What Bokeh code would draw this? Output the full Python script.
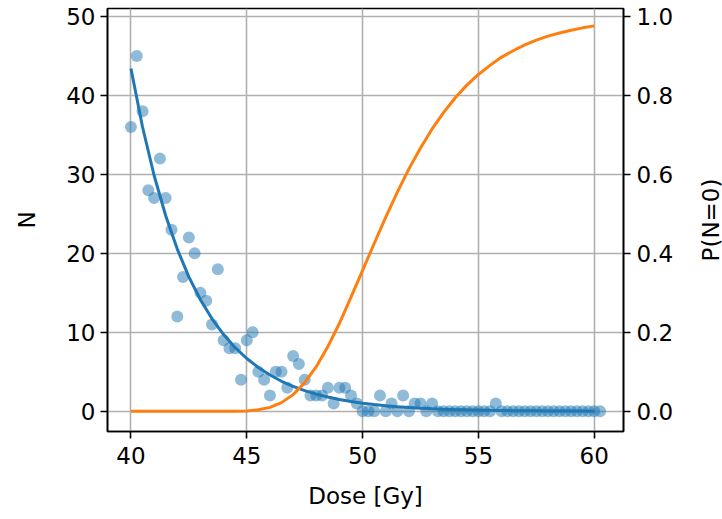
import math
from bokeh.plotting import figure
from bokeh.layouts import row
from bokeh.models import Range1d, LinearAxis, FixedTicker, PrintfTickFormatter
from bokeh.core.properties import value
from bokeh.embed import file_html
from bokeh.resources import INLINE

# Measured dose points (Gy)
dose = [
    40.00, 40.25, 40.50, 40.75, 41.00, 41.25, 41.50, 41.75,
    42.00, 42.25, 42.50, 42.75, 43.00, 43.25, 43.50, 43.75,
    44.00, 44.25, 44.50, 44.75, 45.00, 45.25, 45.50, 45.75,
    46.00, 46.25, 46.50, 46.75, 47.00, 47.25, 47.50, 47.75,
    48.00, 48.25, 48.50, 48.75, 49.00, 49.25, 49.50, 49.75,
    50.00, 50.25, 50.50, 50.75, 51.00, 51.25, 51.50, 51.75,
    52.00, 52.25, 52.50, 52.75, 53.00, 53.25, 53.50, 53.75,
    54.00, 54.25, 54.50, 54.75, 55.00, 55.25, 55.50, 55.75,
    56.00, 56.25, 56.50, 56.75, 57.00, 57.25, 57.50, 57.75,
    58.00, 58.25, 58.50, 58.75, 59.00, 59.25, 59.50, 59.75,
    60.00, 60.25,
]
# Observed N
counts = [
    36, 45, 38, 28, 27, 32, 27, 23,
    12, 17, 22, 20, 15, 14, 11, 18,
    9, 8, 8, 4, 9, 10, 5, 4,
    2, 5, 5, 3, 7, 6, 4, 2,
    2, 2, 3, 1, 3, 3, 2, 1,
    0, 0, 0, 2, 0, 1, 0, 2,
    0, 1, 1, 0, 1, 0, 0, 0,
    0, 0, 0, 0, 0, 0, 0, 1,
    0, 0, 0, 0, 0, 0, 0, 0,
    0, 0, 0, 0, 0, 0, 0, 0,
    0, 0,
]

# Fitted curves
curve_dose = [
    40.0, 40.5, 41.0, 41.5, 42.0, 42.5, 43.0, 43.5, 44.0, 44.5,
    45.0, 45.5, 46.0, 46.5, 47.0, 47.5, 48.0, 48.5, 49.0, 49.5,
    50.0, 50.5, 51.0, 51.5, 52.0, 52.5, 53.0, 53.5, 54.0, 54.5,
    55.0, 55.5, 56.0, 56.5, 57.0, 57.5, 58.0, 58.5, 59.0, 59.5,
    60.0,
]
n_fit = [
    43.40, 36.00, 29.86, 24.76, 20.54, 17.03, 14.13, 11.72, 9.72, 8.06,
    6.69, 5.55, 4.60, 3.81, 3.16, 2.62, 2.18, 1.81, 1.50, 1.24,
    1.03, 0.855, 0.709, 0.588, 0.488, 0.405, 0.336, 0.278, 0.231, 0.191,
    0.159, 0.132, 0.109, 0.091, 0.075, 0.062, 0.052, 0.043, 0.036, 0.030,
    0.025,
]
p_zero = [
    0.0, 0.0, 0.0, 0.0, 0.0, 0.0, 0.0, 0.0, 0.00006, 0.0003,
    0.0012, 0.0039, 0.0101, 0.0221, 0.0424, 0.0728, 0.113, 0.164, 0.223, 0.289,
    0.357, 0.425, 0.492, 0.555, 0.614, 0.667, 0.715, 0.757, 0.794, 0.826,
    0.853, 0.876, 0.897, 0.913, 0.928, 0.940, 0.950, 0.958, 0.965, 0.971,
    0.976,
]

x_ticks = [40, 45, 50, 55, 60]
n_ticks = [0, 10, 20, 30, 40, 50]
p_ticks = [0.0, 0.2, 0.4, 0.6, 0.8, 1.0]
right_title = "P(N=0)"

FONT = "DejaVu Sans"
FS = "23px"

p = figure(
    width=698, height=519,
    x_range=Range1d(38.9875, 61.2625),
    y_range=Range1d(-2.55, 51.0),
    output_backend="svg", toolbar_location=None,
    min_border_left=107, min_border_right=75,
    min_border_top=8, min_border_bottom=88,
    background_fill_color="white", border_fill_color="white",
)
p.extra_y_ranges = {"prob": Range1d(-0.051, 1.02)}

p.outline_line_color = "black"
p.outline_line_width = 1.6
p.outline_line_alpha = 1.0

# grids
p.xgrid.ticker = FixedTicker(ticks=x_ticks)
p.ygrid.ticker = FixedTicker(ticks=n_ticks)
for g in (p.xgrid, p.ygrid):
    g.grid_line_color = "#b0b0b0"
    g.grid_line_width = 1.6

def style_axis(ax):
    ax.axis_line_color = "black"
    ax.axis_line_width = 1.6
    ax.major_tick_line_color = "black"
    ax.major_tick_line_width = 1.6
    ax.major_tick_out = 7
    ax.major_tick_in = 0
    ax.minor_tick_line_color = None
    ax.major_label_text_font = FONT
    ax.major_label_text_font_size = FS
    ax.major_label_text_color = "black"
    ax.axis_label_text_font = FONT
    ax.axis_label_text_font_size = FS
    ax.axis_label_text_font_style = "normal"
    ax.axis_label_text_color = "black"
    ax.major_label_standoff = 5

xa = p.xaxis[0]
xa.ticker = FixedTicker(ticks=x_ticks)
xa.axis_label = "Dose [Gy]"
style_axis(xa)
xa.major_label_standoff = 8
xa.axis_label_standoff = 16

ya = p.yaxis[0]
ya.ticker = FixedTicker(ticks=n_ticks)
ya.axis_label = "N"
style_axis(ya)
ya.axis_label_standoff = 23

ra = LinearAxis(y_range_name="prob", ticker=FixedTicker(ticks=p_ticks),
                formatter=PrintfTickFormatter(format="%.1f"))
style_axis(ra)
ra.major_label_standoff = 6
p.add_layout(ra, "right")

p.scatter(dose, counts, size=12, fill_color="#1f77b4", fill_alpha=0.5,
          line_color="#1f77b4", line_alpha=0.0)
p.line(curve_dose, n_fit, line_color="#1f77b4", line_width=3)
p.line(curve_dose, p_zero, line_color="#ff7f0e", line_width=3, y_range_name="prob")

# narrow strip carrying the right-axis title (reads bottom to top)
q = figure(
    width=24, height=519,
    x_range=Range1d(-1, 1), y_range=Range1d(-1, 1),
    x_axis_type=None, y_axis_type=None,
    output_backend="svg", toolbar_location=None,
    min_border_left=0, min_border_right=0,
    min_border_top=8, min_border_bottom=88,
    background_fill_color="white", border_fill_color="white",
)
q.outline_line_color = None
q.grid.visible = False
q.text(x=[0], y=[0], text=[right_title], angle=math.pi / 2,
       text_align="center", text_baseline="middle",
       text_font=value(FONT), text_font_size=value(FS), text_color="black")

layout = row(p, q, spacing=0)
open("out.html", "w").write(file_html(layout, INLINE))
